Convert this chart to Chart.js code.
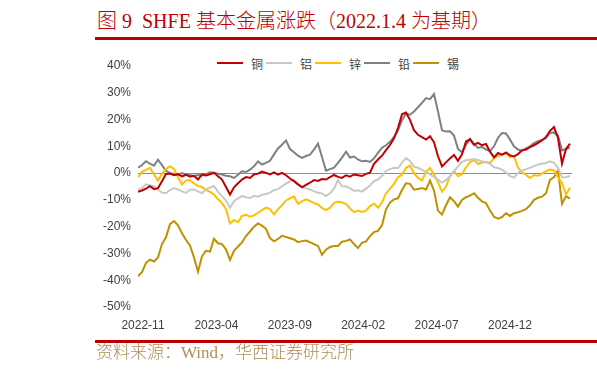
<!DOCTYPE html>
<html>
<head>
<meta charset="utf-8">
<script src="https://cdn.jsdelivr.net/npm/chart.js@4.4.1/dist/chart.umd.min.js"></script>
<style>
	body { margin: 0; background: #fff; }
	#wrap { position: relative; width: 597px; height: 375px; overflow: hidden; background: #fff; }
	#chart { position: absolute; left: 0; top: 0; }
	.title { position: absolute; left: 97px; top: 11px; line-height: 20px; font-size: 20px; font-weight: 300; font-family: 'Liberation Serif', 'Noto Sans CJK SC', serif; color: #c00000; white-space: nowrap; }
	.rule { position: absolute; left: 95px; width: 502px; height: 3px; background: #c00000; }
	#legend { position: absolute; left: 217px; top: 55px; height: 16px; display: flex; }
	#legend .item { width: 49px; display: flex; align-items: center; font-size: 12px; font-family: 'Noto Sans CJK SC', sans-serif; color: #404040; }
	#legend .swatch { width: 26px; height: 2px; margin-right: 8px; }
	.source { position: absolute; left: 96px; top: 344px; line-height: 17px; font-size: 17px; font-weight: 300; font-family: 'Liberation Serif', 'Noto Sans CJK SC', serif; color: #b08d57; white-space: nowrap; }
</style>
</head>
<body>
<div id="wrap">
	<div class="title">图 9&nbsp; SHFE 基本金属涨跌（2022.1.4 为基期）</div>
	<div class="rule" style="top: 37px;"></div>
	<div id="legend"></div>
	<canvas id="chart" width="597" height="375"></canvas>
	<div class="rule" style="top: 340px; height: 3px;"></div>
	<div class="source">资料来源：Wind，华西证券研究所</div>
</div>
<script>
// SHFE 基本金属涨跌 (%), roughly weekly samples
var seriesNames = ['铜', '铝', '锌', '铅', '锡'];

var copper = [
	-7.0, -6.5, -5.8, -4.9, -6.0, -5.6, -3.0, -0.3, -0.2, -0.8,
	-0.4, -1.2, -0.6, -1.3, -1.0, -2.4, -0.5, -0.9, -0.4, 0.1,
	-1.2, -2.4, -5.2, -8.0, -5.3, -3.8, -2.4, -1.5, -1.8, -0.5,
	-0.2, 0.6, 0.1, -0.5, 0.3, -0.6, 0.1, -0.8, -2.0, -3.0,
	-4.2, -5.3, -4.4, -3.6, -2.6, -2.9, -2.2, -2.4, -1.5, -0.7,
	-1.4, -1.8, -0.8, -1.3, -0.5, -0.8, -1.1, -0.3, 0.2, 3.5,
	5.1, 6.5, 8.6, 10.5, 13.0, 16.8, 22.0, 22.6, 19.9, 16.0,
	14.3, 13.4, 12.5, 13.8, 11.5, 6.3, 2.5, 4.0, 5.5, 6.8,
	4.6, 7.0, 11.8, 12.6, 10.6, 11.3, 10.4, 10.9, 8.0, 5.9,
	7.5, 6.9, 7.6, 6.6, 6.2, 7.1, 8.5, 8.8, 9.7, 10.4,
	11.3, 12.2, 13.5, 15.8, 17.2, 13.1, 3.5, 9.0, 11.0
];
var aluminum = [
	-6.3, -5.5, -4.2, -4.6, -5.0, -6.2, -7.3, -7.5, -6.3, -5.6,
	-6.1, -6.8, -7.4, -6.2, -6.0, -6.8, -7.5, -6.0, -5.4, -4.8,
	-7.0, -8.6, -10.3, -12.9, -10.5, -9.4, -8.6, -9.0, -9.3, -8.5,
	-8.8, -8.1, -7.8, -7.3, -6.4, -6.0, -4.9, -3.9, -3.0, -2.6,
	-4.2, -5.0, -5.7, -6.1, -6.8, -7.3, -7.6, -8.6, -7.5, -5.8,
	-2.6, -4.9, -5.0, -5.6, -6.7, -6.4, -6.9, -5.8, -4.6, -3.0,
	-2.4, -1.0, 0.8, 1.5, 2.0, 1.8, 3.9, 5.6, 4.5, 2.4,
	2.0, 1.2, 0.5, -0.5, -1.5, -2.4, -3.5, -2.6, -1.2, 0.6,
	2.5, 4.2, 4.8, 5.0, 5.3, 4.9, 4.4, 4.0, 3.5, 2.2,
	1.9, 1.3, 0.2, -1.1, -1.7, 0.1, 0.9, 1.5, 2.0, 2.6,
	3.2, 3.5, 3.8, 4.4, 3.8, 2.0, -1.6, -1.5, -1.1
];
var zinc = [
	-1.5, 0.5, 1.2, 2.0, -0.5, -2.8, -0.2, 1.5, 2.6, 1.6,
	-1.5, -4.2, -2.8, -2.6, -3.9, -4.8, -5.2, -6.3, -7.0, -8.0,
	-9.8, -11.2, -13.5, -18.8, -17.5, -18.3, -16.0, -15.6, -16.3, -15.8,
	-14.8, -13.8, -12.9, -13.4, -15.5, -13.5, -12.0, -10.2, -9.4, -8.7,
	-11.5, -10.5, -9.8, -10.4, -11.2, -11.7, -13.0, -13.8, -12.9, -11.2,
	-10.6, -11.0, -11.5, -13.2, -14.6, -14.0, -14.5, -14.0, -12.3, -11.4,
	-12.9, -11.0, -7.5, -5.9, -4.0, -1.5, -0.6, 2.0, 2.8, 0.0,
	-1.8, -2.8, 0.5, 1.9, -0.5, -3.4, -7.0, -5.0, -1.1, 0.8,
	-1.2, -0.4, 2.2, 4.0, 5.0, 3.4, 3.9, 4.2, 3.8, 5.6,
	6.4, 6.9, 7.8, 5.9, 6.5, 2.0, 0.3, -0.6, -1.8, -0.7,
	-1.0, -0.2, 0.7, 1.3, 1.0, -1.5, -3.8, -8.0, -5.5
];
var lead = [
	2.0, 3.0, 4.4, 3.5, 2.8, 5.0, 3.0, 0.8, 0.1, -0.3,
	-0.6, 0.0, -0.5, -0.8, -1.1, -0.7, -0.9, -0.5, 0.3, 0.1,
	-0.2, -0.5, -1.0, -1.2, -1.8, -0.6, 0.7, 0.4, 1.3, 2.5,
	4.4, 3.2, 3.8, 4.6, 7.0, 9.2, 10.6, 12.2, 9.0, 7.8,
	6.5, 5.7, 6.4, 6.9, 8.8, 11.0, 6.0, 0.9, 1.5, 2.0,
	3.8, 5.8, 8.0, 5.8, 6.2, 5.1, 4.4, 4.6, 4.2, 5.5,
	7.6, 9.5, 10.4, 11.7, 13.5, 16.0, 19.8, 22.2, 21.8, 23.0,
	24.6, 26.2, 28.0, 27.6, 29.5, 23.0, 16.0, 15.5, 15.6, 14.0,
	9.0, 7.8, 10.5, 12.8, 10.8, 9.4, 9.8, 8.8, 8.2, 10.0,
	13.2, 15.0, 14.8, 12.5, 10.0, 8.8, 8.4, 9.2, 10.0, 11.2,
	11.9, 12.4, 13.1, 15.0, 15.2, 14.0, 8.5, 9.0, 9.5
];
var tin = [
	-38.5, -37.0, -33.5, -32.3, -33.0, -31.5, -26.5, -24.0, -19.0, -17.9,
	-19.5, -22.5, -25.0, -27.0, -31.5, -36.8, -31.0, -29.0, -29.3, -24.5,
	-26.2, -26.5, -28.5, -32.4, -29.0, -27.4, -25.9, -23.5, -21.8, -20.0,
	-18.8, -19.6, -20.8, -24.3, -25.5, -24.6, -23.4, -23.8, -24.3, -24.8,
	-25.8, -25.4, -25.2, -25.8, -26.5, -27.2, -30.5, -28.6, -27.6, -27.2,
	-27.2, -25.6, -25.3, -24.8, -26.5, -28.0, -26.0, -25.5, -23.5, -22.0,
	-21.6, -19.5, -13.5, -11.0, -9.8, -9.4, -6.3, -3.8, -4.0, -6.2,
	-5.9, -5.6, -6.1, -2.8, -6.5, -14.0, -15.5, -12.0, -9.0, -10.5,
	-12.5, -10.0, -9.0, -8.4, -7.5, -9.2, -10.6, -11.2, -14.0, -16.3,
	-17.0, -16.4, -15.0, -16.0, -15.0, -14.6, -14.1, -13.5, -12.0, -10.0,
	-9.2, -8.8, -7.5, -2.5, -1.5, 1.0, -11.5, -8.6, -9.5
];

// month labels on the x axis and the sample position where each month starts
var xLabels = ['2022-11', '2023-04', '2023-09', '2024-02', '2024-07', '2024-12'];
var xLabelAt = [1.25, 19.6, 37.95, 56.3, 74.65, 93];

var colors = ['#c00000', '#c8c8c8', '#ffc000', '#808080', '#bf9000'];

var idx = [];
for (var i = 0; i < copper.length; i++) {
	idx.push(i);
}

var legend = document.getElementById('legend');
for (var k = 0; k < seriesNames.length; k++) {
	var item = document.createElement('div');
	item.className = 'item';
	var sw = document.createElement('span');
	sw.className = 'swatch';
	sw.style.background = colors[k];
	item.appendChild(sw);
	item.appendChild(document.createTextNode(seriesNames[k]));
	legend.appendChild(item);
}

var allSeries = [copper, aluminum, zinc, lead, tin];
var datasets = [];
for (var s = 0; s < allSeries.length; s++) {
	datasets.push({
		label: seriesNames[s],
		data: allSeries[s],
		borderColor: colors[s],
		backgroundColor: colors[s],
		borderWidth: 2,
		pointRadius: 0,
		tension: 0,
		fill: false
	});
}

var chart = new Chart(document.getElementById('chart'), {
	type: 'line',
	data: {
		labels: idx,
		datasets: datasets
	},
	options: {
		responsive: false,
		animation: false,
		devicePixelRatio: 1,
		layout: {
			padding: { left: 0, right: 25, top: 66, bottom: 0 }
		},
		plugins: {
			legend: { display: false },
			tooltip: { enabled: false }
		},
		scales: {
			x: {
				type: 'linear',
				min: 0,
				max: 108.5,
				afterFit: function (scale) { scale.height = 68; },
				afterBuildTicks: function (scale) {
					scale.ticks = xLabelAt.map(function (v) { return { value: v }; });
				},
				grid: { display: false, drawTicks: false },
				border: { display: false },
				ticks: {
					autoSkip: false,
					maxRotation: 0,
					minRotation: 0,
					padding: 11,
					color: '#404040',
					font: { family: 'Liberation Sans', size: 12 },
					callback: function (value, index) { return xLabels[index]; }
				}
			},
			y: {
				min: -50,
				max: 40,
				afterFit: function (scale) { scale.width = 138; },
				grid: {
					drawTicks: false,
					lineWidth: 1,
					color: function (ctx) {
						return ctx.tick && ctx.tick.value === 0 ? '#8c8c8c' : 'rgba(0,0,0,0)';
					}
				},
				border: { display: false },
				ticks: {
					stepSize: 10,
					padding: 7,
					color: '#404040',
					font: { family: 'Liberation Sans', size: 12 },
					callback: function (v) { return v + '%'; }
				}
			}
		}
	}
});
</script>
</body>
</html>
